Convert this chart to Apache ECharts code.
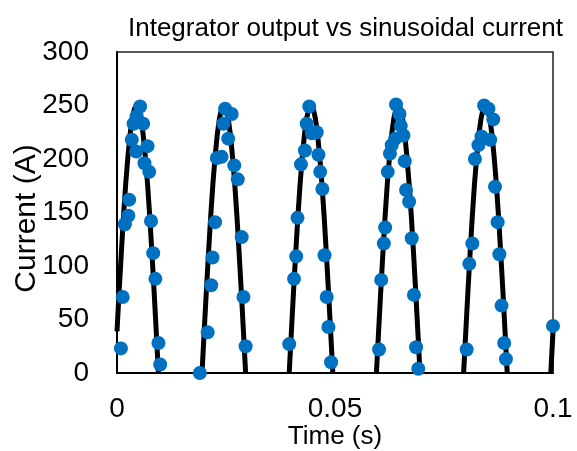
<!DOCTYPE html>
<html>
<head>
    <meta charset="utf-8">
    <title>Integrator output vs sinusoidal current</title>
    <script type="text/javascript" src="https://cdn.jsdelivr.net/npm/echarts@6/dist/echarts.min.js"></script>
    <style>
        html, body { margin: 0; padding: 0; background: #fff; }
    </style>
</head>
<body>
<div id="chart" style="width:577px;height:451px;"></div>

<script type="text/javascript">
    // tick labels
    var xTicks = [0, 0.05, 0.1];
    var yTicks = [0, 50, 100, 150, 200, 250, 300];

    // black curve: half-wave sinusoid (null = gap on the zero line)
    var lineTime = [
        0, 0.0005, 0.001, 0.0015, 0.002, 0.0025, 0.003, 0.0035, 0.004, 0.0045,
        0.005, 0.0055, 0.006, 0.0065, 0.007, 0.0075, 0.008, 0.0085, 0.009, 0.0095,
        0.0145,
        0.0195, 0.02, 0.0205, 0.021, 0.0215, 0.022, 0.0225, 0.023, 0.0235, 0.024, 0.0245,
        0.025, 0.0255, 0.026, 0.0265, 0.027, 0.0275, 0.028, 0.0285, 0.029, 0.0295,
        0.0345,
        0.0395, 0.04, 0.0405, 0.041, 0.0415, 0.042, 0.0425, 0.043, 0.0435, 0.044, 0.0445,
        0.045, 0.0455, 0.046, 0.0465, 0.047, 0.0475, 0.048, 0.0485, 0.049, 0.0495,
        0.0545,
        0.0595, 0.06, 0.0605, 0.061, 0.0615, 0.062, 0.0625, 0.063, 0.0635, 0.064, 0.0645,
        0.065, 0.0655, 0.066, 0.0665, 0.067, 0.0675, 0.068, 0.0685, 0.069, 0.0695,
        0.0745,
        0.0795, 0.08, 0.0805, 0.081, 0.0815, 0.082, 0.0825, 0.083, 0.0835, 0.084, 0.0845,
        0.085, 0.0855, 0.086, 0.0865, 0.087, 0.0875, 0.088, 0.0885, 0.089, 0.0895,
        0.0945,
        0.0995, 0.1
    ];
    var lineCurrent = [
        39, 77, 113, 147, 177, 202, 223, 238, 247, 250,
        247, 238, 223, 202, 177, 147, 113, 77, 39, 0,
        null,
        0, 39, 77, 113, 147, 177, 202, 223, 238, 247, 250,
        247, 238, 223, 202, 177, 147, 113, 77, 39, 0,
        null,
        0, 39, 77, 113, 147, 177, 202, 223, 238, 247, 250,
        247, 238, 223, 202, 177, 147, 113, 77, 39, 0,
        null,
        0, 39, 77, 113, 147, 177, 202, 223, 238, 247, 250,
        247, 238, 223, 202, 177, 147, 113, 77, 39, 0,
        null,
        0, 39, 77, 113, 147, 177, 202, 223, 238, 247, 250,
        247, 238, 223, 202, 177, 147, 113, 77, 39, 0,
        null,
        0, 39
    ];

    // blue points: integrator output
    var pointTime = [
        0.0009, 0.0013, 0.0018, 0.0026, 0.0028, 0.0034, 0.0038, 0.0044, 0.0045, 0.0053,
        0.0060, 0.0063, 0.0070, 0.0074, 0.0078, 0.0083, 0.0088, 0.0095, 0.0099,
        0.0190, 0.0208, 0.0216, 0.0219, 0.0225, 0.0229, 0.0240, 0.0244, 0.0248, 0.0255,
        0.0263, 0.0269, 0.0277, 0.0286, 0.0290, 0.0295,
        0.0395, 0.0406, 0.0411, 0.0414, 0.0422, 0.0431, 0.0435, 0.0441, 0.0447, 0.0458,
        0.0462, 0.0466, 0.0471, 0.0476, 0.0481, 0.0485, 0.0491,
        0.0601, 0.0606, 0.0612, 0.0615, 0.0621, 0.0626, 0.0630, 0.0638, 0.0640, 0.0648,
        0.0651, 0.0657, 0.0660, 0.0663, 0.0670, 0.0676, 0.0681, 0.0686, 0.0691,
        0.0802, 0.0808, 0.0815, 0.0821, 0.0829, 0.0836, 0.0842, 0.0852, 0.0856, 0.0863,
        0.0867, 0.0873, 0.0877, 0.0882, 0.0888, 0.0892, 0.1
    ];
    var pointCurrent = [
        23, 71, 139, 147, 162, 218, 233, 207, 240, 249,
        233, 196, 212, 188, 142, 112, 88, 28, 8,
        0, 38, 82, 108, 141, 201, 202, 233, 247, 219,
        242, 194, 181, 127, 71, 25,
        27, 88, 109, 145, 195, 208, 233, 249, 224, 225,
        204, 188, 172, 110, 71, 43, 10,
        22, 87, 121, 136, 188, 205, 213, 219, 251, 242,
        231, 222, 198, 171, 160, 126, 73, 24, 4,
        22, 102, 121, 200, 213, 221, 250, 247, 218, 237,
        174, 141, 111, 63, 28, 13, 44
    ];

    var lineData = [], pointData = [];
    for (var i = 0; i < lineTime.length; i++) {
        lineData.push([lineTime[i], lineCurrent[i] === null ? '-' : lineCurrent[i]]);
    }
    for (var j = 0; j < pointTime.length; j++) {
        pointData.push([pointTime[j], pointCurrent[j]]);
    }

    var font = "'Liberation Sans', Arial, sans-serif";
    var myChart = echarts.init(document.getElementById('chart'));

    var option = {
        animation: false,
        backgroundColor: '#fff',
        title: {
            text: 'Integrator output vs sinusoidal current',
            left: 123,
            top: 11,
            textStyle: { fontFamily: font, fontSize: 26, fontWeight: 'normal', color: '#000' }
        },
        grid: {
            left: 117,
            right: 24,
            top: 52,
            bottom: 78,
            outerBoundsMode: 'none',
            containLabel: false,
            show: true,
            borderColor: '#222',
            borderWidth: 1.5
        },
        xAxis: {
            type: 'value',
            min: xTicks[0],
            max: xTicks[xTicks.length - 1],
            interval: 0.05,
            name: 'Time (s)',
            nameLocation: 'middle',
            nameGap: 51,
            nameMoveOverlap: false,
            nameTextStyle: { fontFamily: font, fontSize: 26, color: '#000' },
            axisLine: { show: true, lineStyle: { color: '#000', width: 2 } },
            axisTick: { show: false },
            splitLine: { show: false },
            axisLabel: { fontFamily: font, fontSize: 28, color: '#000', margin: 22 }
        },
        yAxis: {
            type: 'value',
            min: yTicks[0],
            max: yTicks[yTicks.length - 1],
            interval: 50,
            name: 'Current (A)',
            nameLocation: 'middle',
            nameGap: 75,
            nameMoveOverlap: false,
            nameTextStyle: { fontFamily: font, fontSize: 30, color: '#000', padding: [0, 12, 0, 0] },
            axisLine: { show: true, lineStyle: { color: '#000', width: 2 } },
            axisTick: { show: false },
            splitLine: { show: false },
            axisLabel: { fontFamily: font, fontSize: 28, color: '#000', margin: 28 }
        },
        series: [
            {
                name: 'Sinusoidal current',
                type: 'line',
                data: lineData,
                showSymbol: false,
                symbol: 'none',
                connectNulls: false,
                clip: true,
                lineStyle: { color: '#000', width: 5 },
                z: 2
            },
            {
                name: 'Integrator output',
                type: 'scatter',
                data: pointData,
                symbolSize: 14,
                clip: false,
                itemStyle: { color: '#0070c0', opacity: 1 },
                z: 3
            }
        ]
    };
    myChart.setOption(option);
</script>
</body>
</html>
